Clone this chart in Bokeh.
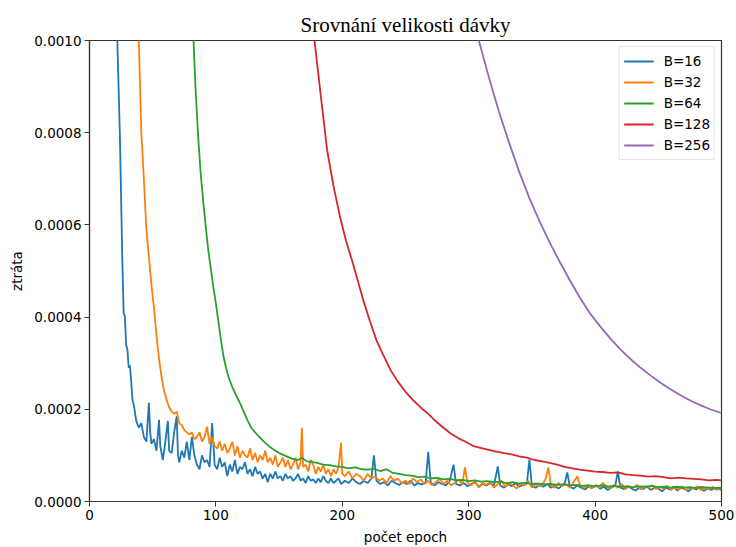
from bokeh.plotting import figure
from bokeh.models import Range1d, FixedTicker, NumeralTickFormatter, Legend, LegendItem
from bokeh.embed import file_html
from bokeh.resources import INLINE

TITLE = "Srovnání velikosti dávky"
X_LABEL = "počet epoch"
Y_LABEL = "ztráta"
SERIES_NAMES = ["B=16", "B=32", "B=64", "B=128", "B=256"]
X_TICKS = [0, 100, 200, 300, 400, 500]
Y_TICKS = [0.0, 0.0002, 0.0004, 0.0006, 0.0008, 0.0010]

# values are read in units of 1e-4
epochs16 = [21, 22, 24, 26, 27, 28, 29, 30, 31, 32, 33, 34, 35, 37, 39, 41, 43, 45, 47, 48, 49, 51, 53, 55, 56, 58, 60,
            62, 63, 65, 67, 69, 70, 71, 73, 75, 77, 79, 81, 83, 85, 87, 89, 91, 93, 95, 97, 99, 101, 103, 105, 107, 109,
            111, 113, 115, 117, 119, 121, 123, 125, 127, 129, 131, 133, 135, 137, 139, 141, 143, 145, 147, 149, 151,
            153, 155, 157, 159, 161, 163, 165, 167, 169, 171, 173, 175, 177, 179, 181, 183, 185, 187, 189, 191, 193,
            195, 197, 199, 202, 205, 208, 211, 214, 217, 220, 223, 225, 227, 230, 233, 236, 239, 242, 245, 248, 251,
            254, 257, 260, 263, 266, 268, 270, 273, 276, 279, 282, 285, 288, 290, 293, 296, 299, 302, 305, 308, 311,
            314, 317, 320, 323, 325, 328, 331, 334, 337, 340, 343, 346, 348, 350, 353, 356, 359, 362, 365, 368, 371,
            374, 376, 378, 380, 383, 386, 389, 392, 395, 398, 401, 404, 407, 410, 413, 416, 418, 420, 423, 426, 429,
            432, 435, 438, 441, 444, 447, 450, 453, 456, 459, 462, 465, 468, 471, 474, 477, 480, 483, 486, 489, 492,
            495, 498, 500]
loss16 = [11.5, 10.0, 8.0, 5.2, 4.1, 4.0, 3.4, 3.3, 2.9, 2.95, 2.6, 2.2, 2.1, 1.75, 1.6, 1.7, 1.4, 1.3, 2.14, 1.5, 1.25,
          1.35, 1.1, 1.77, 1.2, 0.9, 1.3, 1.75, 1.1, 1.05, 1.5, 1.85, 1.0, 0.85, 1.1, 0.95, 1.3, 0.9, 1.4, 1.0, 0.8,
          0.7, 1.0, 0.85, 0.9, 0.75, 1.7, 0.8, 0.7, 0.95, 0.75, 0.85, 0.55, 0.8, 0.65, 0.9, 0.6, 0.75, 0.7, 0.85, 0.6,
          0.7, 0.55, 0.75, 0.6, 0.65, 0.5, 0.6, 0.42, 0.6, 0.5, 0.65, 0.5, 0.55, 0.45, 0.6, 0.5, 0.55, 0.45, 0.5, 0.6,
          0.45, 0.5, 0.4, 0.55, 0.45, 0.48, 0.4, 0.5, 0.42, 0.55, 0.45, 0.4, 0.5, 0.4, 0.45, 0.5, 0.38, 0.45, 0.4,
          0.5, 0.42, 0.38, 0.45, 0.4, 0.5, 1.0, 0.45, 0.38, 0.42, 0.35, 0.45, 0.4, 0.36, 0.42, 0.38, 0.45, 0.35, 0.4,
          0.37, 0.42, 1.08, 0.4, 0.35, 0.42, 0.38, 0.35, 0.45, 0.8, 0.38, 0.35, 0.4, 0.33, 0.38, 0.42, 0.32, 0.38,
          0.35, 0.4, 0.35, 0.76, 0.35, 0.3, 0.38, 0.33, 0.4, 0.32, 0.36, 0.38, 0.91, 0.34, 0.3, 0.36, 0.32, 0.38, 0.3,
          0.34, 0.28, 0.35, 0.4, 0.63, 0.32, 0.28, 0.35, 0.3, 0.26, 0.33, 0.3, 0.35, 0.28, 0.32, 0.25, 0.3, 0.35, 0.65,
          0.3, 0.27, 0.33, 0.28, 0.24, 0.3, 0.27, 0.33, 0.25, 0.3, 0.28, 0.22, 0.3, 0.26, 0.32, 0.24, 0.3, 0.27, 0.22,
          0.3, 0.26, 0.32, 0.23, 0.28, 0.25, 0.3, 0.27, 0.25]

epochs32 = [37, 39, 41, 43, 45, 47, 49, 51, 53, 55, 57, 59, 61, 63, 65, 67, 69, 71, 73, 75, 77, 79, 81, 83, 85, 87, 89,
            91, 93, 95, 97, 99, 101, 103, 105, 107, 109, 111, 113, 115, 117, 119, 121, 123, 125, 127, 129, 131, 133,
            135, 137, 139, 141, 143, 145, 147, 149, 151, 153, 155, 157, 159, 161, 163, 165, 167, 168, 169, 171, 173,
            175, 177, 179, 181, 183, 185, 187, 189, 191, 193, 195, 197, 199, 200, 202, 205, 208, 211, 214, 217, 220,
            223, 226, 229, 232, 235, 238, 241, 244, 247, 250, 253, 256, 259, 262, 265, 268, 271, 274, 277, 280, 283,
            286, 289, 292, 295, 297, 299, 302, 305, 308, 311, 314, 317, 320, 323, 326, 329, 332, 335, 338, 341, 344,
            347, 350, 353, 356, 359, 361, 363, 365, 368, 371, 374, 377, 380, 383, 386, 388, 391, 394, 397, 400, 403,
            406, 409, 412, 415, 418, 421, 424, 427, 430, 433, 436, 439, 442, 445, 448, 451, 454, 457, 460, 463, 466,
            469, 472, 475, 478, 481, 484, 487, 490, 493, 496, 500]
loss32 = [11.5, 10.0, 8.0, 7.0, 5.9, 5.3, 4.7, 4.2, 3.6, 3.1, 2.7, 2.4, 2.2, 2.05, 1.95, 1.9, 1.95, 1.7, 1.65, 1.55,
          1.5, 1.45, 1.5, 1.35, 1.4, 1.5, 1.3, 1.4, 1.62, 1.25, 1.4, 1.2, 1.15, 1.3, 1.1, 1.25, 1.05, 1.15, 1.3, 1.0,
          1.2, 0.95, 1.1, 1.0, 0.95, 1.15, 0.9, 1.05, 0.85, 1.0, 0.9, 1.1, 0.85, 0.95, 0.8, 1.0, 0.75, 0.85, 0.95,
          0.75, 0.9, 0.7, 0.8, 0.95, 0.7, 0.85, 1.6, 0.75, 0.8, 0.65, 0.9, 0.8, 0.6, 0.75, 0.65, 0.8, 0.6, 0.7, 0.55,
          0.7, 0.6, 0.75, 1.28, 0.6, 0.55, 0.65, 0.5, 0.6, 0.55, 0.45, 0.6, 0.5, 0.55, 0.45, 0.5, 0.4, 0.55, 0.45,
          0.5, 0.4, 0.45, 0.38, 0.5, 0.42, 0.48, 0.38, 0.45, 0.35, 0.42, 0.5, 0.38, 0.45, 0.35, 0.4, 0.48, 0.38, 0.74,
          0.4, 0.35, 0.45, 0.3, 0.4, 0.36, 0.42, 0.3, 0.38, 0.45, 0.32, 0.4, 0.35, 0.28, 0.4, 0.35, 0.45, 0.3, 0.38,
          0.33, 0.4, 0.5, 0.74, 0.35, 0.3, 0.4, 0.33, 0.38, 0.3, 0.42, 0.55, 0.35, 0.3, 0.36, 0.28, 0.35, 0.3, 0.4,
          0.33, 0.28, 0.36, 0.3, 0.38, 0.27, 0.33, 0.3, 0.36, 0.26, 0.32, 0.3, 0.35, 0.27, 0.32, 0.28, 0.34, 0.25,
          0.3, 0.27, 0.33, 0.25, 0.3, 0.28, 0.33, 0.24, 0.3, 0.27, 0.32, 0.25, 0.3]

epochs64 = [80, 82, 84, 86, 88, 90, 92, 94, 96, 98, 100, 102, 104, 106, 108, 110, 113, 116, 119, 122, 125, 128, 131, 134,
            138, 142, 146, 150, 155, 160, 165, 168, 172, 176, 180, 185, 190, 195, 200, 205, 210, 215, 220, 225, 230,
            235, 240, 245, 250, 255, 260, 265, 270, 275, 280, 285, 290, 295, 300, 305, 310, 315, 320, 325, 330, 335,
            340, 345, 350, 355, 360, 365, 370, 375, 380, 385, 390, 395, 400, 405, 410, 415, 420, 425, 430, 435, 440,
            445, 450, 455, 460, 465, 470, 475, 480, 485, 490, 495, 500]
loss64 = [11.3, 10.2, 8.9, 7.9, 7.1, 6.5, 5.95, 5.45, 5.05, 4.65, 4.3, 3.9, 3.5, 3.15, 2.9, 2.7, 2.48, 2.3, 2.14, 1.95,
          1.76, 1.6, 1.5, 1.41, 1.3, 1.2, 1.12, 1.05, 0.99, 0.93, 0.9, 0.95, 0.87, 0.86, 0.84, 0.8, 0.79, 0.76, 0.75,
          0.72, 0.74, 0.7, 0.69, 0.71, 0.66, 0.7, 0.62, 0.6, 0.57, 0.56, 0.53, 0.54, 0.5, 0.51, 0.48, 0.49, 0.46,
          0.47, 0.44, 0.46, 0.43, 0.44, 0.42, 0.43, 0.4, 0.42, 0.39, 0.41, 0.38, 0.39, 0.37, 0.38, 0.36, 0.37, 0.35,
          0.36, 0.34, 0.35, 0.33, 0.35, 0.32, 0.34, 0.32, 0.33, 0.31, 0.33, 0.32, 0.34, 0.31, 0.32, 0.3, 0.32, 0.3,
          0.31, 0.29, 0.31, 0.3, 0.29, 0.3]

epochs128 = [172, 178, 183, 188, 193, 198, 203, 208, 213, 217, 222, 227, 232, 238, 244, 250, 256, 262, 268, 274, 280,
             286, 292, 298, 304, 310, 316, 322, 328, 334, 340, 346, 352, 358, 364, 370, 376, 382, 388, 394, 400, 406,
             412, 418, 424, 430, 436, 442, 448, 454, 460, 466, 472, 478, 484, 490, 496, 500]
loss128 = [11.0, 10.0, 8.8, 7.62, 6.85, 6.2, 5.65, 5.2, 4.72, 4.33, 3.9, 3.5, 3.2, 2.86, 2.6, 2.38, 2.2, 2.04, 1.9,
           1.74, 1.6, 1.47, 1.37, 1.29, 1.2, 1.16, 1.12, 1.08, 1.05, 1.02, 0.98, 0.95, 0.9, 0.87, 0.84, 0.8, 0.75,
           0.72, 0.69, 0.67, 0.65, 0.64, 0.62, 0.63, 0.59, 0.57, 0.56, 0.54, 0.55, 0.53, 0.5, 0.52, 0.5, 0.49, 0.48,
           0.46, 0.47, 0.46]

epochs256 = [300, 308, 316, 324, 332, 340, 348, 356, 364, 372, 380, 388, 396, 404, 412, 420, 428, 436, 444, 452, 460,
             468, 476, 484, 492, 500]
loss256 = [10.9, 10.0, 9.2, 8.45, 7.78, 7.15, 6.58, 6.08, 5.62, 5.2, 4.8, 4.42, 4.08, 3.8, 3.54, 3.3, 3.09, 2.9, 2.73,
           2.57, 2.43, 2.3, 2.18, 2.08, 1.99, 1.92]

SCALE = 1e-4
COLORS = ["#1f77b4", "#ff7f0e", "#2ca02c", "#d62728", "#9467bd"]

FONT = "DejaVu Sans"
FS = "13.5px"

p = figure(width=736, height=547, output_backend="svg", toolbar_location=None,
           x_range=Range1d(0, 500), y_range=Range1d(0, 0.001),
           min_border_left=89, min_border_right=15, min_border_top=40, min_border_bottom=45)

p.title.text = TITLE
p.title.text_font = "Liberation Serif"
p.title.text_font_size = "21px"
p.title.text_font_style = "normal"
p.title.align = "center"
p.title.text_color = "black"
p.title.standoff = 7

p.xgrid.visible = False
p.ygrid.visible = False
p.outline_line_color = "#333333"
p.outline_line_width = 1.2
p.outline_line_alpha = 1.0

for ax in (p.xaxis[0], p.yaxis[0]):
    ax.axis_line_color = "#333333"
    ax.axis_line_width = 1.2
    ax.major_tick_line_color = "#333333"
    ax.major_tick_in = 0
    ax.major_tick_out = 5
    ax.minor_tick_line_color = None
    ax.major_label_text_font = FONT
    ax.major_label_text_font_size = FS
    ax.major_label_text_color = "black"
    ax.axis_label_text_font = FONT
    ax.axis_label_text_font_size = FS
    ax.axis_label_text_font_style = "normal"
    ax.axis_label_text_color = "black"

p.xaxis[0].ticker = FixedTicker(ticks=X_TICKS)
p.yaxis[0].ticker = FixedTicker(ticks=Y_TICKS)
p.yaxis[0].formatter = NumeralTickFormatter(format="0.0000")
p.xaxis[0].axis_label = X_LABEL
p.yaxis[0].axis_label = Y_LABEL
p.xaxis[0].major_label_standoff = 3
p.yaxis[0].major_label_standoff = 3
p.xaxis[0].axis_label_standoff = 6
p.yaxis[0].axis_label_standoff = 6

all_x = [epochs16, epochs32, epochs64, epochs128, epochs256]
all_y = [loss16, loss32, loss64, loss128, loss256]

items = []
for name, xs, ys, c in zip(SERIES_NAMES, all_x, all_y, COLORS):
    r = p.line(xs, [v * SCALE for v in ys], line_color=c, line_width=1.8)
    items.append(LegendItem(label=name, renderers=[r]))

legend = Legend(items=items, location="top_right")
legend.label_text_font = FONT
legend.label_text_font_size = FS
legend.label_text_color = "black"
legend.glyph_width = 30
legend.glyph_height = 20
legend.label_height = 20
legend.label_standoff = 10
legend.spacing = 1
legend.padding = 4
legend.margin = 6
legend.border_line_color = "#cccccc"
legend.border_line_width = 1
legend.background_fill_alpha = 0.8
p.add_layout(legend)

open("out.html", "w").write(file_html(p, INLINE))
